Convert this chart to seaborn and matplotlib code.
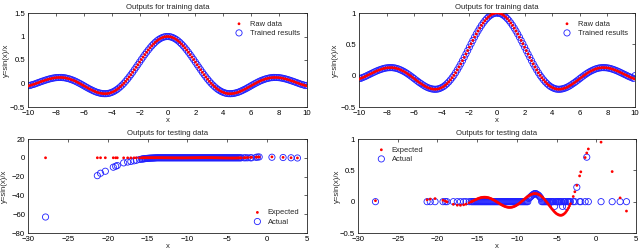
import matplotlib
matplotlib.use("Agg")
import matplotlib.pyplot as plt
import seaborn as sns
import pandas as pd

# ---------------- data ----------------
train_x = [-10, -9.75, -9.5, -9.25, -9, -8.75, -8.5, -8.25, -8, -7.75, -7.5, -7.25,
           -7, -6.75, -6.5, -6.25, -6, -5.75, -5.5, -5.25, -5, -4.75, -4.5, -4.25,
           -4, -3.75, -3.5, -3.25, -3, -2.75, -2.5, -2.25, -2, -1.75, -1.5, -1.25,
           -1, -0.75, -0.5, -0.25, 0, 0.25, 0.5, 0.75, 1, 1.25, 1.5, 1.75, 2, 2.25,
           2.5, 2.75, 3, 3.25, 3.5, 3.75, 4, 4.25, 4.5, 4.75, 5, 5.25, 5.5, 5.75,
           6, 6.25, 6.5, 6.75, 7, 7.25, 7.5, 7.75, 8, 8.25, 8.5, 8.75, 9, 9.25,
           9.5, 9.75, 10]
raw_y = [-0.054, -0.033, -0.008, 0.019, 0.046, 0.071, 0.094, 0.112, 0.124, 0.128,
         0.125, 0.114, 0.094, 0.067, 0.033, -0.005, -0.047, -0.089, -0.128, -0.164,
         -0.192, -0.210, -0.217, -0.211, -0.189, -0.152, -0.100, -0.033, 0.047, 0.139,
         0.239, 0.346, 0.455, 0.562, 0.665, 0.759, 0.841, 0.909, 0.959, 0.990, 1.000,
         0.990, 0.959, 0.909, 0.841, 0.759, 0.665, 0.562, 0.455, 0.346, 0.239, 0.139,
         0.047, -0.033, -0.100, -0.152, -0.189, -0.211, -0.217, -0.210, -0.192, -0.164,
         -0.128, -0.089, -0.047, -0.005, 0.033, 0.067, 0.094, 0.114, 0.125, 0.128,
         0.124, 0.112, 0.094, 0.071, 0.046, 0.019, -0.008, -0.033, -0.054]
trained_left = [-0.040, -0.030, -0.008, 0.019, 0.046, 0.071, 0.094, 0.112, 0.124, 0.128,
                0.125, 0.114, 0.094, 0.067, 0.033, -0.005, -0.047, -0.089, -0.128, -0.164,
                -0.192, -0.210, -0.217, -0.211, -0.189, -0.152, -0.100, -0.033, 0.047, 0.139,
                0.239, 0.346, 0.455, 0.562, 0.665, 0.759, 0.841, 0.909, 0.959, 0.990, 1.000,
                0.990, 0.959, 0.909, 0.841, 0.759, 0.665, 0.562, 0.455, 0.346, 0.239, 0.139,
                0.047, -0.033, -0.100, -0.152, -0.189, -0.211, -0.217, -0.210, -0.192, -0.164,
                -0.128, -0.089, -0.047, -0.005, 0.033, 0.067, 0.094, 0.114, 0.125, 0.128,
                0.124, 0.112, 0.094, 0.071, 0.046, 0.019, -0.008, -0.030, -0.040]
trained_right = [-0.040, -0.030, -0.008, 0.019, 0.046, 0.071, 0.094, 0.112, 0.124, 0.128,
                 0.125, 0.114, 0.094, 0.067, 0.033, -0.005, -0.047, -0.089, -0.128, -0.164,
                 -0.192, -0.210, -0.217, -0.211, -0.189, -0.152, -0.100, -0.033, 0.047, 0.139,
                 0.239, 0.346, 0.455, 0.562, 0.665, 0.759, 0.841, 0.909, 0.959, 0.990, 1.000,
                 0.990, 0.959, 0.909, 0.841, 0.759, 0.665, 0.562, 0.455, 0.346, 0.239, 0.139,
                 0.047, -0.033, -0.100, -0.152, -0.189, -0.211, -0.217, -0.210, -0.192, -0.164,
                 -0.128, -0.089, -0.047, -0.005, 0.033, 0.067, 0.094, 0.114, 0.125, 0.128,
                 0.124, 0.112, 0.094, 0.071, 0.046, 0.019, -0.008, -0.030, 0.000]
# intermediate training samples (between the ones above)
train_x_mid = [-9.875, -9.625, -9.375, -9.125, -8.875, -8.625, -8.375, -8.125, -7.875,
               -7.625, -7.375, -7.125, -6.875, -6.625, -6.375, -6.125, -5.875, -5.625,
               -5.375, -5.125, -4.875, -4.625, -4.375, -4.125, -3.875, -3.625, -3.375,
               -3.125, -2.875, -2.625, -2.375, -2.125, -1.875, -1.625, -1.375, -1.125,
               -0.875, -0.625, -0.375, -0.125, 0.125, 0.375, 0.625, 0.875, 1.125, 1.375,
               1.625, 1.875, 2.125, 2.375, 2.625, 2.875, 3.125, 3.375, 3.625, 3.875,
               4.125, 4.375, 4.625, 4.875, 5.125, 5.375, 5.625, 5.875, 6.125, 6.375,
               6.625, 6.875, 7.125, 7.375, 7.625, 7.875, 8.125, 8.375, 8.625, 8.875,
               9.125, 9.375, 9.625, 9.875]
raw_y_mid = [-0.044, -0.020, 0.006, 0.033, 0.059, 0.083, 0.103, 0.119, 0.127, 0.129,
             0.122, 0.105, 0.081, 0.051, 0.014, -0.026, -0.069, -0.110, -0.147, -0.179,
             -0.202, -0.215, -0.216, -0.202, -0.173, -0.128, -0.068, 0.005, 0.092, 0.188,
             0.292, 0.400, 0.509, 0.615, 0.713, 0.802, 0.877, 0.936, 0.977, 0.997,
             0.997, 0.977, 0.936, 0.877, 0.802, 0.713, 0.615, 0.509, 0.400, 0.292,
             0.188, 0.092, 0.005, -0.068, -0.128, -0.173, -0.202, -0.216, -0.215, -0.202,
             -0.179, -0.147, -0.110, -0.069, -0.026, 0.014, 0.051, 0.081, 0.105, 0.122,
             0.129, 0.127, 0.119, 0.103, 0.083, 0.059, 0.033, 0.006, -0.020, -0.044]
trained_y_mid = [-0.044, -0.020, 0.006, 0.033, 0.059, 0.083, 0.103, 0.119, 0.127, 0.129,
                 0.122, 0.105, 0.081, 0.051, 0.014, -0.026, -0.069, -0.110, -0.147, -0.179,
                 -0.202, -0.215, -0.216, -0.202, -0.173, -0.128, -0.068, 0.005, 0.092, 0.188,
                 0.292, 0.400, 0.509, 0.615, 0.713, 0.802, 0.877, 0.936, 0.977, 0.997,
                 0.997, 0.977, 0.936, 0.877, 0.802, 0.713, 0.615, 0.509, 0.400, 0.292,
                 0.188, 0.092, 0.005, -0.068, -0.128, -0.173, -0.202, -0.216, -0.215, -0.202,
                 -0.179, -0.147, -0.110, -0.069, -0.026, 0.014, 0.051, 0.081, 0.105, 0.122,
                 0.129, 0.127, 0.119, 0.103, 0.083, 0.059, 0.033, 0.006, -0.020, -0.044]

test_x = [-27.8, -21.3, -20.9, -20.3, -19.3, -19.0, -18.8, -18.0, -17.5, -17.1, -16.7,
          -16.4, -16.0,
          -15.75, -15.5, -15.25, -15.0, -14.75, -14.5, -14.25, -14.0, -13.75, -13.5,
          -13.25, -13.0, -12.75, -12.5, -12.25, -12.0, -11.75, -11.5, -11.25, -11.0,
          -10.75, -10.5, -10.25, -10.0, -9.75, -9.5, -9.25, -9.0, -8.75, -8.5, -8.25,
          -8.0, -7.75, -7.5, -7.25, -7.0, -6.75, -6.5, -6.25, -6.0, -5.75, -5.5, -5.25,
          -5.0, -4.75, -4.5, -4.25, -4.0, -3.75, -3.5, -3.25,
          -2.9, -2.7, -2.45, -2.1, -1.95, -1.4, -1.2, -1.0, 0.6, 2.0, 3.0, 3.8]
expected_y = [0.016, 0.030, 0.042, 0.049, 0.023, 0.008, -0.003, -0.042, -0.056, -0.058,
              -0.050, -0.039, -0.018,
              -0.003, 0.013, 0.029, 0.043, 0.056, 0.065, 0.070, 0.071, 0.067, 0.060,
              0.048, 0.032, 0.014, -0.005, -0.025, -0.045, -0.062, -0.076, -0.086, -0.091,
              -0.090, -0.084, -0.072, -0.054, -0.033, -0.008, 0.019, 0.046, 0.071, 0.094,
              0.112, 0.124, 0.128, 0.125, 0.114, 0.094, 0.067, 0.033, -0.005, -0.047,
              -0.089, -0.128, -0.164, -0.192, -0.210, -0.217, -0.211, -0.189, -0.152,
              -0.100, -0.033,
              0.082, 0.158, 0.260, 0.411, 0.476, 0.704, 0.777, 0.841, 0.950, 0.480,
              0.060, -0.150]
actual_left = [-63.0, -19.0, -16.4, -14.3, -10.0, -9.0, -8.2, -5.4, -4.5, -3.9, -3.2,
               -2.6, -1.8,
               -1.4, -1.1, -0.8, -0.6, -0.4, -0.3, -0.2, -0.1, 0, 0, 0, 0, 0, 0, 0, 0,
               0, 0, 0, 0, 0, 0, 0, 0, 0, 0, 0, 0, 0, 0, 0, 0, 0, 0, 0, 0, 0, 0, 0, 0,
               0, 0, 0, 0, 0, 0, 0, 0, 0, 0, 0,
               0, 0, 0, 0, 0, 0.5, 0.8, 0.9, 0.6, 0.3, 0.0, -0.2]
actual_right = [0, 0, 0, 0, 0, 0, 0, 0, 0, 0, 0, 0, 0,
                0, 0, 0, 0, 0, 0, 0, 0, 0, 0, 0, 0, 0, 0, 0, 0, 0, 0, 0, 0, 0, 0, 0,
                0, 0, 0, 0, 0, 0, 0.05, 0.08, 0.11, 0.13, 0.12, 0.10, 0.06, 0, 0, 0,
                0, 0, 0, -0.075, 0, 0, 0, -0.075, 0, -0.075, 0, 0,
                0, 0, 0.23, 0, 0, 0, 0.71, 0, 0, 0, 0, 0]
# intermediate testing samples in the dense stretch
test_x_mid = [-15.625, -15.375, -15.125, -14.875, -14.625, -14.375, -14.125, -13.875,
              -13.625, -13.375, -13.125, -12.875, -12.625, -12.375, -12.125, -11.875,
              -11.625, -11.375, -11.125, -10.875, -10.625, -10.375, -10.125, -9.875,
              -9.625, -9.375, -9.125, -8.875, -8.625, -8.375, -8.125, -7.875, -7.625,
              -7.375, -7.125, -6.875, -6.625, -6.375, -6.125, -5.875, -5.625, -5.375,
              -5.125, -4.875, -4.625, -4.375, -4.125, -3.875, -3.625, -3.375]
expected_y_mid = [0.005, 0.021, 0.036, 0.050, 0.060, 0.068, 0.071, 0.070, 0.064, 0.054,
                  0.040, 0.024, 0.005, -0.015, -0.035, -0.054, -0.070, -0.082, -0.089,
                  -0.091, -0.088, -0.078, -0.064, -0.044, -0.020, 0.006, 0.033, 0.059,
                  0.083, 0.103, 0.119, 0.127, 0.129, 0.122, 0.105, 0.081, 0.051, 0.014,
                  -0.026, -0.069, -0.110, -0.147, -0.179, -0.202, -0.215, -0.216, -0.202,
                  -0.173, -0.128, -0.068]
actual_left_mid = [-1.25, -0.95, -0.7, -0.5, -0.35, -0.25, -0.15, 0, 0, 0, 0, 0, 0, 0,
                   0, 0, 0, 0, 0, 0, 0, 0, 0, 0, 0, 0, 0, 0, 0, 0, 0, 0, 0, 0, 0, 0, 0,
                   0, 0, 0, 0, 0, 0, 0, 0, 0, 0, 0, 0, 0]
actual_right_mid = [0, 0, 0, 0, 0, 0, 0, 0, 0, 0, 0, 0, 0, 0, 0, 0, 0, 0, 0, 0, 0, 0,
                    0, 0, 0, 0, 0, 0, 0, 0.065, 0.095, 0.12, 0.13, 0.11, 0.08, 0, 0, 0,
                    0, 0, 0, 0, 0, 0, 0, 0, 0, 0, 0, 0]

# ---------------- style ----------------
FS = 5.6
sns.set_style("white")
plt.rcParams.update({
    "font.family": ["Liberation Sans", "DejaVu Sans"],
    "font.size": FS,
    "axes.linewidth": 0.6,
    "axes.edgecolor": "#222222",
    "xtick.direction": "in",
    "ytick.direction": "in",
    "xtick.top": True,
    "ytick.right": True,
    "xtick.major.size": 2.5,
    "ytick.major.size": 2.5,
    "xtick.major.width": 0.5,
    "ytick.major.width": 0.5,
    "xtick.major.pad": 2.5,
    "ytick.major.pad": 2,
    "xtick.labelsize": FS,
    "ytick.labelsize": FS,
    "xtick.color": "#222222",
    "ytick.color": "#222222",
    "xtick.labelcolor": "black",
    "ytick.labelcolor": "black",
})

fig = plt.figure(figsize=(6.4, 2.5), dpi=100)
ax_tl = fig.add_axes([28 / 640, 0.572, 279 / 640, 0.376])
ax_tr = fig.add_axes([359 / 640, 0.572, 276 / 640, 0.376])
ax_bl = fig.add_axes([28 / 640, 0.068, 279 / 640, 0.376])
ax_br = fig.add_axes([358 / 640, 0.068, 278 / 640, 0.376])

train_left_df = pd.DataFrame({"x": train_x + train_x_mid, "raw": raw_y + raw_y_mid,
                              "trained": trained_left + trained_y_mid})
train_right_df = pd.DataFrame({"x": train_x + train_x_mid, "raw": raw_y + raw_y_mid,
                               "trained": trained_right + trained_y_mid})
test_left_df = pd.DataFrame({"x": test_x + test_x_mid,
                             "expected": expected_y + expected_y_mid,
                             "actual": actual_left + actual_left_mid})
test_right_df = pd.DataFrame({"x": test_x + test_x_mid,
                              "expected": expected_y + expected_y_mid,
                              "actual": actual_right + actual_right_mid})


def fmt(t):
    return f"{t:g}".replace("-", "\u2212")


def panel(ax, df, ycol_red, ycol_blue, lab_red, lab_blue, title, xlim, xticks,
          ylim, yticks, legend_loc, legend_anchor, ylab_x, xlab_y):
    sns.scatterplot(data=df, x="x", y=ycol_red, ax=ax, marker="o", s=4,
                    color="#ff0000", edgecolor="none", linewidth=0, label=lab_red,
                    zorder=3)
    sns.scatterplot(data=df, x="x", y=ycol_blue, ax=ax, marker="o", s=20,
                    color="#0000ff", facecolor="none", edgecolor="#2020ff",
                    linewidth=0.6, label=lab_blue, zorder=2)
    ax.set_xlim(*xlim)
    ax.set_ylim(*ylim)
    ax.set_xticks(xticks)
    ax.set_yticks(yticks)
    ax.set_xticklabels([fmt(t) for t in xticks])
    ax.set_yticklabels([fmt(t) for t in yticks])
    ax.set_title(title, fontsize=FS, pad=3)
    ax.set_xlabel("x", fontsize=FS)
    ax.set_ylabel("y=sin(x)/x", fontsize=FS)
    ax.yaxis.set_label_coords(ylab_x, 0.5)
    ax.xaxis.set_label_coords(0.5, xlab_y)
    for sp in ax.spines.values():
        sp.set_visible(True)
    ax.legend(loc=legend_loc, bbox_to_anchor=legend_anchor, frameon=False,
              fontsize=5.4, handletextpad=0.4, labelspacing=0.25,
              borderaxespad=0.6, markerscale=1.0)


xt_train = [-10, -8, -6, -4, -2, 0, 2, 4, 6, 8, 10]
xt_test = [-30, -25, -20, -15, -10, -5, 0, 5]
panel(ax_tl, train_left_df, "raw", "trained", "Raw data", "Trained results",
      "Outputs for training data", (-10, 10), xt_train,
      (-0.5, 1.5), [-0.5, 0, 0.5, 1, 1.5], "upper right", None, -0.066, -0.105)
panel(ax_tr, train_right_df, "raw", "trained", "Raw data", "Trained results",
      "Outputs for training data", (-10, 10), xt_train,
      (-0.5, 1.0), [-0.5, 0, 0.5, 1], "upper right", None, -0.072, -0.105)
panel(ax_bl, test_left_df, "expected", "actual", "Expected", "Actual",
      "Outputs for testing data", (-30, 5), xt_test,
      (-80, 20), [-80, -60, -40, -20, 0, 20], "lower right", None, -0.07, -0.11)
panel(ax_br, test_right_df, "expected", "actual", "Expected", "Actual",
      "Outputs for testing data", (-30, 5), xt_test,
      (-0.5, 1.0), [-0.5, 0, 0.5, 1], "upper left", (0.03, 1.0), -0.062, -0.11)

fig.savefig("out.png", dpi=100, facecolor="white")
